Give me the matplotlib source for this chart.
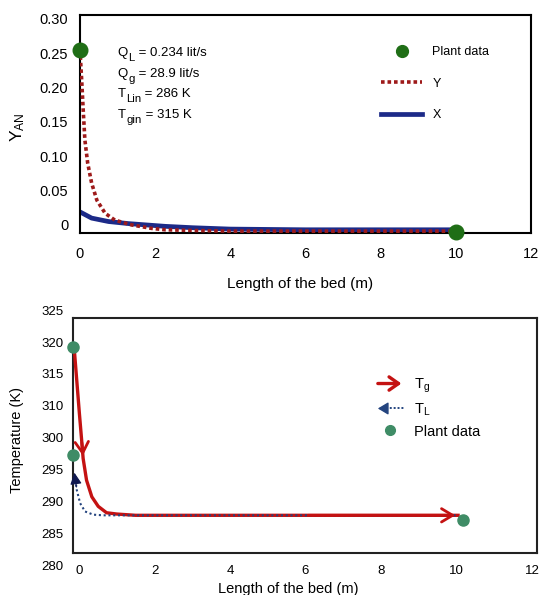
import numpy as np
import matplotlib
matplotlib.use("Agg")
import matplotlib.pyplot as plt
from matplotlib.legend_handler import HandlerBase
from matplotlib.lines import Line2D
from matplotlib.patches import FancyArrowPatch

plt.rcParams["font.family"] = ["Liberation Sans", "DejaVu Sans"]
plt.rcParams["mathtext.default"] = "regular"

# ---- top panel: mole fraction profiles along the bed ----
y_len = [0.0, 0.02, 0.045, 0.09, 0.13, 0.205, 0.31, 0.45, 0.67, 0.93, 1.38,
         1.91, 2.27, 3.0, 4.0, 6.0, 8.0, 9.95]
y_val = [0.255, 0.235, 0.211, 0.163, 0.124, 0.090, 0.061, 0.036, 0.017, 0.007,
         0.0, -0.005, -0.007, -0.008, -0.009, -0.009, -0.009, -0.009]
x_len = [0.0, 0.31, 0.76, 1.29, 2.27, 3.0, 4.0, 6.0, 8.0, 10.0]
x_val = [0.019, 0.010, 0.005, 0.002, -0.002, -0.004, -0.006, -0.007, -0.007, -0.007]
plant_top_len = [0.0, 10.0]
plant_top_val = [0.255, -0.010]
# operating conditions: (symbol, subscript, rest)
conditions = [("Q", "L", " = 0.234 lit/s"), ("Q", "g", " = 28.9 lit/s"),
              ("T", "Lin", " = 286 K"), ("T", "gin", " = 315 K")]
top_yticks = [0, 0.05, 0.10, 0.15, 0.20, 0.25, 0.30]
top_ylabels = ["0", "0.05", "0.10", "0.15", "0.20", "0.25", "0.30"]
xticks = [0, 2, 4, 6, 8, 10, 12]

# ---- bottom panel: temperature profiles ----
tg_len = [-0.13, -0.06, 0.01, 0.07, 0.11, 0.20, 0.34, 0.51, 0.73, 1.0, 1.5,
          3.0, 6.0, 10.04]
tg_val = [319.5, 314.3, 308.2, 299.9, 297.0, 293.6, 291.0, 289.5, 288.5, 288.3,
          288.1, 288.1, 288.1, 288.1]
tl_len = [-0.13, -0.11, -0.06, 0.03, 0.16, 0.38, 0.64, 1.0, 3.0, 6.0, 10.0]
tl_val = [295.2, 294.4, 292.1, 290.0, 288.7, 288.2, 288.1, 288.1, 288.1, 288.1, 288.1]
plant_bot_len = [-0.15, -0.15, 10.17]
plant_bot_val = [319.5, 297.6, 287.4]
# tick labels exactly as printed on the original axis
temp_labels = [280, 285, 290, 295, 300, 310, 315, 320, 325]

DARKRED = "#9e1a1a"
NAVY = "#1c2a88"
GREEN_TOP = "#1f6e16"
RED = "#c41212"
BLUE = "#24447f"
GREEN_BOT = "#3f8c66"


class ArrowHandler(HandlerBase):
    def __init__(self, reverse=False):
        super().__init__()
        self.reverse = reverse

    def create_artists(self, legend, orig_handle, xdescent, ydescent, width,
                       height, fontsize, trans):
        yc = height / 2 - ydescent
        x0, x1 = -xdescent, width - xdescent
        color = orig_handle.get_color()
        if not self.reverse:
            arr = FancyArrowPatch((x0, yc), (x1, yc),
                                  arrowstyle="->,head_length=0.5,head_width=0.35",
                                  mutation_scale=fontsize * 1.3, color=color,
                                  lw=2.4, transform=trans)
            return [arr]
        line = Line2D([x0 + 5, x1], [yc, yc], color=color, lw=1.4,
                      linestyle=(0, (1, 1)), transform=trans)
        head = FancyArrowPatch((x0 + 7, yc), (x0, yc),
                               arrowstyle="-|>,head_length=0.5,head_width=0.3",
                               mutation_scale=fontsize * 1.2, color=color,
                               lw=1, transform=trans)
        return [line, head]


def sub_text(ax, x, y, sym, sub, rest, size=9.5, subsize=8.2, drop=2.8):
    # symbol with a large, dropped subscript, as in the original figure
    t = ax.text(x, y, sym, transform=ax.transAxes, fontsize=size, va="baseline")
    s = ax.annotate(sub, xy=(1, 0), xycoords=(t, t), xytext=(0.3, -drop),
                    textcoords="offset points", fontsize=subsize, va="bottom")
    ax.annotate(rest, xy=(1, 0), xycoords=(s, t), xytext=(0, 0),
                textcoords="offset points", fontsize=size, va="bottom")


fig = plt.figure(figsize=(5.39, 5.95), dpi=100)

# ================= top =================
ax1 = fig.add_axes([0.1484, 0.6084, 0.8362, 0.3664])
ax1.plot(x_len, x_val, color=NAVY, lw=3.4, solid_capstyle="butt", zorder=2)
ax1.plot(y_len, y_val, color=DARKRED, lw=2.6, linestyle=(0, (1, 0.8)), zorder=3)
ax1.plot(plant_top_len, plant_top_val, "o", color=GREEN_TOP, ms=10.5,
         clip_on=False, zorder=5)
ax1.set_xlim(0, 12)
ax1.set_ylim(-0.0117, 0.3058)
ax1.set_xticks(xticks)
ax1.set_yticks(top_yticks, top_ylabels)
ax1.tick_params(axis="both", length=0, labelsize=10.5)
ax1.tick_params(axis="x", pad=10)
ax1.tick_params(axis="y", pad=8.5)
for s in ax1.spines.values():
    s.set_linewidth(1.5)
ax1.set_xlabel("Length of the bed (m)", fontsize=11)
ax1.xaxis.set_label_coords(0.488, -0.2)
ax1.set_ylabel("Y$_{AN}$", fontsize=12.5)
ax1.yaxis.set_label_coords(-0.118, 0.486)

for i, (sym, sub, rest) in enumerate(conditions):
    sub_text(ax1, 0.084, 0.812 - i * 0.095, sym, sub, rest)

h_plant = Line2D([], [], marker="o", color=GREEN_TOP, ms=8.5, lw=0)
h_y = Line2D([], [], color=DARKRED, lw=2.6, linestyle=(0, (1, 0.8)))
h_x = Line2D([], [], color=NAVY, lw=3.4)
ax1.legend([h_plant, h_y, h_x], ["Plant data", "Y", "X"], loc="upper left",
           bbox_to_anchor=(0.668, 0.856), frameon=False, fontsize=9,
           handlelength=3.3, handletextpad=0.8, labelspacing=1.55,
           borderpad=0, borderaxespad=0)

# ================= bottom =================
ax2 = fig.add_axes([0.1354, 0.0706, 0.8609, 0.3950])
lab_pos = np.arange(len(temp_labels))


def fwd(v):
    return np.interp(v, temp_labels, lab_pos)


def inv(p):
    return np.interp(p, lab_pos, temp_labels)


ax2.set_yscale("function", functions=(fwd, inv))
ax2.plot(tg_len, tg_val, color=RED, lw=2.4, zorder=3)
ax2.plot(tl_len[1:], tl_val[1:], color=BLUE, lw=1.5, linestyle=(0, (1, 1.3)),
         zorder=4)
ax2.plot(plant_bot_len, plant_bot_val, "o", color=GREEN_BOT, ms=8,
         clip_on=False, zorder=6)
ax2.annotate("", xy=(tg_len[4], tg_val[4]), xytext=(tg_len[3], tg_val[3]),
             arrowprops=dict(arrowstyle="->,head_length=0.5,head_width=0.3",
                             color=RED, lw=2, mutation_scale=16), zorder=5)
ax2.annotate("", xy=(tg_len[-1], tg_val[-1]), xytext=(tg_len[-2], tg_val[-2]),
             arrowprops=dict(arrowstyle="->,head_length=0.5,head_width=0.3",
                             color=RED, lw=2, mutation_scale=16), zorder=5)
ax2.annotate("", xy=(tl_len[0], tl_val[0]), xytext=(tl_len[2], tl_val[2]),
             arrowprops=dict(arrowstyle="-|>,head_length=0.5,head_width=0.25",
                             color="#101850", lw=0.8, mutation_scale=14),
             zorder=5)
ax2.set_xlim(-0.159, 12.13)
ax2.set_ylim(282.2, 324.0)
ax2.set_xticks(xticks)
ax2.set_yticks([])
ax2.tick_params(axis="both", length=0, labelsize=9.5)
ax2.tick_params(axis="x", pad=8.5)
for s in ax2.spines.values():
    s.set_linewidth(1.5)
    s.set_color("#222222")
for v in temp_labels:
    ax2.annotate(str(v), xy=(0, v), xycoords=("axes fraction", "data"),
                 xytext=(-7, 0), textcoords="offset points", ha="right",
                 va="center", fontsize=9.5, annotation_clip=False)
ax2.set_xlabel("Length of the bed (m)", fontsize=10.5)
ax2.xaxis.set_label_coords(0.463, -0.125)
ax2.set_ylabel("Temperature (K)", fontsize=10.5)
ax2.yaxis.set_label_coords(-0.105, 0.481)

h_tg = Line2D([], [], color=RED)
h_tl = Line2D([], [], color=BLUE)
h_pb = Line2D([], [], marker="o", color=GREEN_BOT, ms=7, lw=0)
ax2.legend([h_tg, h_tl, h_pb], ["T$_{g}$", "T$_{L}$", "Plant data"],
           handler_map={h_tg: ArrowHandler(False), h_tl: ArrowHandler(True)},
           loc="upper left", bbox_to_anchor=(0.651, 0.75), frameon=False,
           fontsize=10.5, handlelength=2.0, handletextpad=0.7, labelspacing=0.45,
           borderpad=0, borderaxespad=0)

fig.savefig("out.png", dpi=100)
